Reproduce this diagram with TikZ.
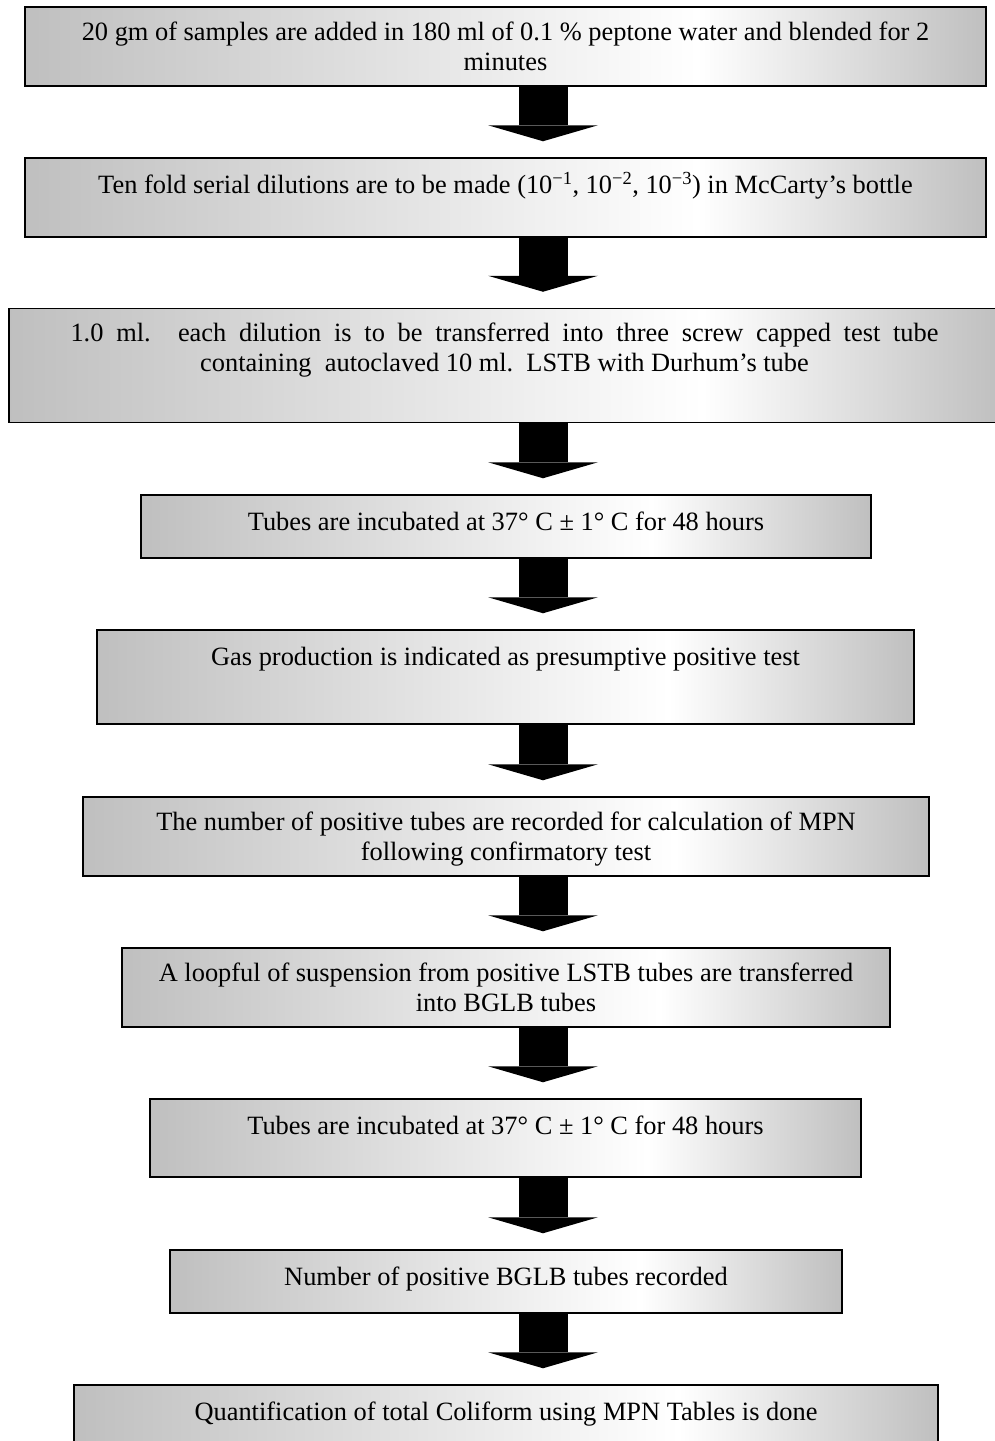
\documentclass[tikz,border=0pt]{standalone}
\usepackage{fontspec}
\setmainfont{Liberation Serif}
\usetikzlibrary{arrows.meta}
\pgfdeclarehorizontalshading{stepshade}{100bp}{color(0bp)=(black!25); color(25bp)=(black!25); color(60bp)=(white); color(75bp)=(black!25); color(100bp)=(black!25)}

\begin{document}
\begin{tikzpicture}[x=1pt, y=-1pt,
    stepbox/.style={draw=black, line width=1.5pt, shading=stepshade, inner sep=0pt},
    steptext/.style={anchor=north, align=center, inner sep=0pt, execute at begin node=\strut, font=\fontsize{26.4pt}{30pt}\selectfont},
    flow/.style={line width=49pt, shorten >=16pt, -{Triangle[width=110pt, length=16pt, line width=0pt]}}]
    \useasboundingbox (0,0) rectangle (994,1441);
\coordinate (ax) at (543,0);
\node[stepbox, minimum width=961pt, minimum height=79pt] (b1) at (505.5,46.5) {};
\node[stepbox, minimum width=961pt, minimum height=79pt] (b2) at (505.5,197.5) {};
\node[stepbox, minimum width=991pt, minimum height=114pt] (b3) at (504.5,365.5) {};
\node[stepbox, minimum width=730pt, minimum height=63pt] (b4) at (506,526.5) {};
\node[stepbox, minimum width=817pt, minimum height=94pt] (b5) at (505.5,677) {};
\node[stepbox, minimum width=846pt, minimum height=79pt] (b6) at (506,836.5) {};
\node[stepbox, minimum width=768pt, minimum height=79pt] (b7) at (506,987.5) {};
\node[stepbox, minimum width=711pt, minimum height=78pt] (b8) at (505.5,1138) {};
\node[stepbox, minimum width=672pt, minimum height=63pt] (b9) at (506,1281.5) {};
\node[stepbox, minimum width=864pt, minimum height=75pt] (b10) at (506,1422.5) {};
\node[steptext] (t1) at ([yshift=-15pt]b1.north) {20 gm of samples are added in 180 ml of 0.1 \% peptone water and blended for 2\\minutes};
\node[steptext] (t2) at ([yshift=-15pt]b2.north) {Ten fold serial dilutions are to be made (10\textsuperscript{−1}, 10\textsuperscript{−2}, 10\textsuperscript{−3}) in McCarty’s bottle};
\node[steptext] (t3) at ([yshift=-15pt]b3.north) {\makebox[868pt][s]{1.0 ml. each dilution is to be transferred into three screw capped test tube}\\containing\ \ autoclaved 10 ml.\ \ LSTB with Durhum’s tube};
\node[steptext] (t4) at ([yshift=-15pt]b4.north) {Tubes are incubated at 37° C ± 1° C for 48 hours};
\node[steptext] (t5) at ([yshift=-15pt]b5.north) {Gas production is indicated as presumptive positive test};
\node[steptext] (t6) at ([yshift=-15pt]b6.north) {The number of positive tubes are recorded for calculation of MPN\\following confirmatory test};
\node[steptext] (t7) at ([yshift=-15pt]b7.north) {A loopful of suspension from positive LSTB tubes are transferred\\into BGLB tubes};
\node[steptext] (t8) at ([yshift=-15pt]b8.north) {Tubes are incubated at 37° C ± 1° C for 48 hours};
\node[steptext] (t9) at ([yshift=-15pt]b9.north) {Number of positive BGLB tubes recorded};
\node[steptext] (t10) at ([yshift=-15pt]b10.north) {Quantification of total Coliform using MPN Tables is done};
\draw[flow] (b1.south -| ax) -- (b2.north -| ax);
\draw[flow] (b2.south -| ax) -- (b3.north -| ax);
\draw[flow] (b3.south -| ax) -- (b4.north -| ax);
\draw[flow] (b4.south -| ax) -- (b5.north -| ax);
\draw[flow] (b5.south -| ax) -- (b6.north -| ax);
\draw[flow] (b6.south -| ax) -- (b7.north -| ax);
\draw[flow] (b7.south -| ax) -- (b8.north -| ax);
\draw[flow] (b8.south -| ax) -- (b9.north -| ax);
\draw[flow] (b9.south -| ax) -- (b10.north -| ax);
\end{tikzpicture}
\end{document}
